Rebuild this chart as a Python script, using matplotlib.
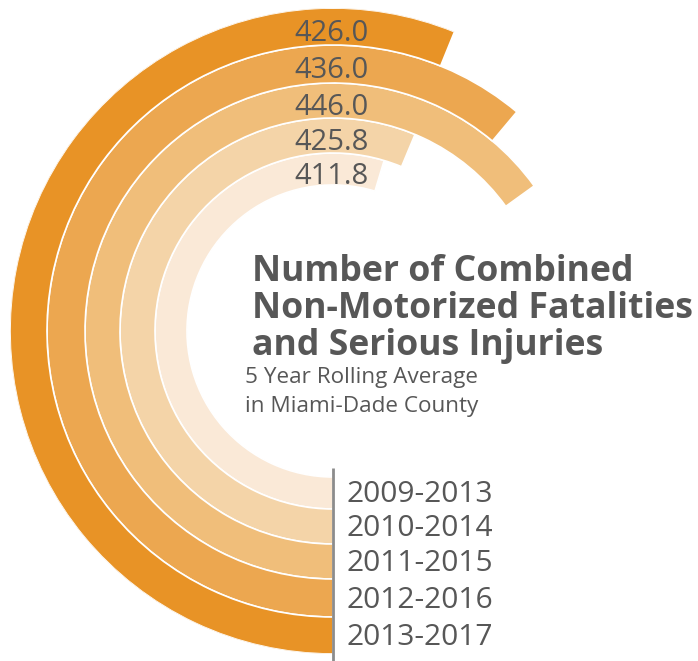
import numpy as np
import matplotlib.pyplot as plt

# 5 year rolling windows, inner ring first
periods = ['2009-2013', '2010-2014', '2011-2015', '2012-2016', '2013-2017']
values = [411.8, 425.8, 446.0, 436.0, 426.0]
# bar length of each ring (degrees swept clockwise from 6 o'clock)
sweep_deg = [196.7, 202.65, 234.2, 220.0, 202.1]

colors = ['#FAE9D7', '#F4D4A8', '#F0BE7A', '#ECA750', '#E89326']
ring_edges = [146, 178, 213, 248, 286, 323]   # px, inner -> outer
txt = '#575757'

plt.rcParams['font.family'] = ['Open Sans', 'DejaVu Sans']

W, H = 698, 661
fig = plt.figure(figsize=(W / 100, H / 100), dpi=100)
R = ring_edges[-1]
cx, cy = 333, 331
ax = fig.add_axes([(cx - R) / W, (H - cy - R) / H, 2 * R / W, 2 * R / H], projection='polar')
ax.set_theta_zero_location('S')
ax.set_theta_direction(-1)
ax.set_ylim(0, R)
ax.axis('off')

r_in = np.array(ring_edges[:-1])
r_w = np.diff(ring_edges)
r_mid = r_in + r_w / 2

ax.barh(r_in, np.deg2rad(sweep_deg), height=r_w, left=0, align='edge',
        color=colors, edgecolor='white', linewidth=1.2)

# value labels stacked at the top of the rings
for r, v in zip(r_mid, values):
    ax.annotate(f'{v:.1f}', xy=(np.pi, r), xytext=(-39, -7), textcoords='offset pixels',
                ha='left', va='center', fontsize=21, color=txt, annotation_clip=False)

# period labels at the bottom, right of the divider
for r, p in zip(r_mid, periods):
    ax.annotate(p, xy=(0, r), xytext=(14, -2), textcoords='offset pixels',
                ha='left', va='center', fontsize=21.5, color=txt, annotation_clip=False)

ax.plot([0, 0], [137, 335], color='#8C8C8C', lw=2, clip_on=False, solid_capstyle='butt')

# title block in the hole
title = ['Number of Combined', 'Non-Motorized Fatalities', 'and Serious Injuries']
for i, line in enumerate(title):
    fig.text(252 / W, 1 - (281 + 37 * i) / H, line, fontsize=25.7, fontweight='bold',
             color=txt, ha='left', va='baseline')
sub = ['5 Year Rolling Average', 'in Miami-Dade County']
for i, line in enumerate(sub):
    fig.text(245 / W, 1 - (383 + 29 * i) / H, line, fontsize=16.2, color=txt,
             ha='left', va='baseline')

fig.savefig('out.png', dpi=100)
